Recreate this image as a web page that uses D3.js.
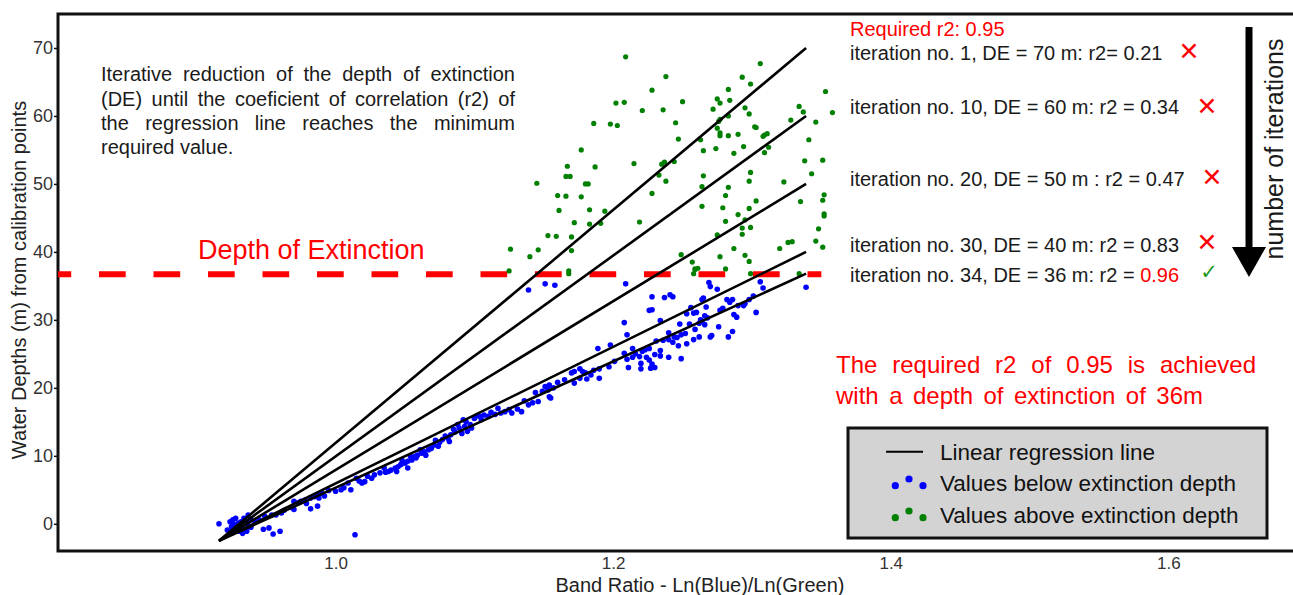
<!DOCTYPE html>
<html lang="en">
<head>
    <meta charset="UTF-8">
    <title>Iterative reduction of the depth of extinction</title>
    <script src="https://d3js.org/d3.v7.min.js"></script>
    <style>
        body { margin: 0; background: #fff; }
        svg { display: block; font-family: "Liberation Sans", Arial, sans-serif; }
        .tick text { fill: #333; }
    </style>
</head>
<body>
    <svg width="1293" height="595"></svg>

    <script>
        // Regression lines: shared start point, end depth for each iteration
        const lineStart = [0.916, -2.5];
        const lineEndX = 1.339;
        const lineEndY = [70, 60, 50, 40, 36.8];
        const extinctionDepth = 36.7;
        const dashEndX = 1.350;

        const yTicks = [0, 10, 20, 30, 40, 50, 60, 70];
        const xTicks = [1.0, 1.2, 1.4, 1.6];

        const requiredR2 = "Required r2: 0.95";
        const iterLabels = [
            "iteration no. 1, DE = 70 m: r2= 0.21",
            "iteration no. 10, DE = 60 m: r2 = 0.34",
            "iteration no. 20, DE = 50 m : r2 = 0.47",
            "iteration no. 30, DE = 40 m: r2 = 0.83",
            "iteration no. 34, DE = 36 m: r2 = "
        ];
        const finalR2 = "0.96";
        const iterPassed = [false, false, false, false, true];

        const paragraph = [
            "Iterative reduction of the depth of extinction",
            "(DE) until the coeficient of correlation (r2) of",
            "the regression line reaches the minimum",
            "required value."
        ];
        const summary = [
            "The required r2 of 0.95 is achieved",
            "with a depth of extinction of 36m"
        ];
        const legendLabels = ["Linear regression line", "Values below extinction depth", "Values above extinction depth"];

        // Points above the extinction depth (green)
        const abovePoints = [
            [1.209,68.7],[1.238,65.8],[1.228,63.8],[1.250,62.1],[1.202,61.9],[1.208,62.0],[1.221,60.8],[1.236,60.9],
            [1.186,58.9],[1.198,58.8],[1.203,58.6],[1.245,59.0],[1.247,56.6],[1.177,55.0],[1.215,53.0],[1.235,52.9],
            [1.237,53.2],[1.244,53.3],[1.167,52.6],[1.187,52.5],[1.166,51.1],[1.169,51.1],[1.233,51.3],[1.145,50.1],
            [1.180,50.0],[1.182,50.0],[1.238,50.4],[1.160,48.3],[1.166,48.2],[1.177,48.1],[1.228,48.6],[1.161,46.1],
            [1.183,46.2],[1.194,46.0],[1.172,44.3],[1.183,44.1],[1.191,44.2],[1.219,44.4],[1.153,42.4],[1.159,42.3],
            [1.170,42.2],[1.146,40.3],[1.170,40.2],[1.140,39.3],[1.249,39.6],[1.257,38.5],[1.259,37.5],[1.168,37.2],
            [1.168,36.8],[1.258,36.8],[1.126,40.4],[1.125,37.2],
            [1.306,67.7],[1.293,65.7],[1.299,64.7],[1.283,63.9],[1.353,63.6],[1.275,62.5],[1.277,61.9],[1.284,62.3],
            [1.272,61.0],[1.295,61.2],[1.334,61.4],[1.337,60.6],[1.358,60.5],[1.298,60.3],[1.277,59.5],[1.276,59.2],
            [1.283,60.0],[1.328,59.4],[1.346,59.1],[1.275,58.2],[1.302,58.4],[1.303,58.3],[1.277,57.5],[1.277,57.1],
            [1.290,57.3],[1.283,57.1],[1.309,57.2],[1.311,57.4],[1.308,57.0],[1.263,56.5],[1.341,56.5],[1.294,55.5],
            [1.312,55.4],[1.274,55.2],[1.265,54.9],[1.287,54.5],[1.309,54.6],[1.338,53.4],[1.351,53.5],[1.265,51.2],
            [1.299,51.7],[1.298,50.4],[1.343,51.5],[1.264,49.6],[1.323,50.3],[1.283,49.5],[1.281,48.3],[1.352,48.4],
            [1.351,47.6],[1.303,47.5],[1.335,47.4],[1.264,46.7],[1.279,46.5],[1.298,46.4],[1.290,45.5],[1.352,45.6],
            [1.352,45.3],[1.281,44.5],[1.295,44.7],[1.293,43.5],[1.299,43.6],[1.348,43.4],[1.275,42.5],[1.293,42.6],
            [1.326,41.4],[1.329,41.5],[1.346,41.6],[1.287,40.5],[1.320,40.5],[1.351,40.7],[1.277,39.3],[1.295,39.5],
            [1.298,38.6],[1.261,37.6],[1.259,37.4],[1.281,37.5],[1.334,36.8],[1.299,36.8]
        ];

        // Points below the extinction depth (blue)
        const belowPoints = [
            [1.151,35.3],[1.158,35.1],[1.139,34.4],[1.209,35.3],[1.269,35.5],[1.339,34.8],[1.306,35.6],
            [1.228,33.4],[1.237,33.3],[1.241,33.7],[1.243,33.4],[1.264,33.0],[1.226,31.4],[1.228,31.5],[1.256,31.8],
            [1.253,30.9],[1.258,31.0],[1.260,31.1],[1.208,29.6],[1.234,29.9],[1.248,29.4],[1.255,29.4],[1.263,30.0],
            [1.210,27.8],[1.240,28.1],[1.259,28.6],[1.244,27.5],[1.249,27.8],[1.252,28.0],[1.262,27.5],[1.258,27.1],
            [1.231,26.9],[1.236,27.0],[1.240,27.1],[1.243,26.7],[1.247,26.2],[1.253,26.5],[1.198,26.3],[1.189,25.8],
            [1.214,25.8],[1.226,25.8],[1.221,25.4],[1.223,25.6],[1.234,25.5],[1.208,25.1],[1.230,24.9],[1.234,24.7],
            [1.214,24.5],[1.219,24.6],[1.210,24.2],[1.224,24.5],[1.226,24.1],[1.240,24.5],[1.249,24.3],[1.220,23.6],
            [1.228,23.5],[1.197,23.1],[1.211,23.0],[1.220,22.8],[1.227,22.9],[1.230,23.0],[1.176,22.8],[1.172,22.4],
            [1.190,22.8],[1.170,22.2],[1.178,22.4],[1.180,22.2],[1.184,21.9],[1.176,21.4],[1.181,21.3],[1.190,21.4],
            [1.160,20.8],[1.172,20.7],
            [1.275,34.5],[1.308,34.7],[1.270,34.9],[1.265,33.2],[1.282,33.0],[1.286,33.0],[1.284,32.6],[1.301,33.5],
            [1.298,33.0],[1.295,32.4],[1.294,32.1],[1.290,32.1],[1.267,31.9],[1.279,31.7],[1.277,31.4],[1.303,31.1],
            [1.287,30.8],[1.289,30.4],[1.266,30.6],[1.268,30.3],[1.264,29.8],[1.262,29.5],[1.266,29.3],[1.276,29.0],
            [1.286,28.3],[1.283,27.5],[1.270,27.5],[1.271,27.7],
            [1.151,20.2],[1.154,20.4],[1.157,20.0],[1.153,19.7],[1.149,19.5],[1.146,18.0],[1.139,17.5],[1.142,17.8],
            [1.154,18.7],[1.155,18.5],[1.131,16.9],[1.134,16.5],[1.127,16.3],[1.122,16.5],[1.117,17.0],[1.119,16.3],
            [1.115,16.1],[1.107,16.0],[1.104,15.8],[1.100,15.5],[1.105,15.3],[1.110,15.8],[1.092,15.3],[1.094,15.0],
            [1.097,14.6],[1.093,14.3],[1.098,14.1],[1.095,13.6],[1.088,14.6],[1.089,14.1],[1.086,13.5],[1.091,13.3],
            [1.083,13.1],[1.081,12.6],[1.077,12.4],[1.082,12.1],[1.075,12.0],[1.071,11.6],[1.074,11.4],[1.069,11.1],
            [1.067,10.9],[1.064,10.6],[1.062,10.4],[1.059,10.1],[1.065,10.1],[1.058,9.7],[1.057,9.9],[1.055,9.4],
            [1.052,9.2],[1.050,8.9],[1.047,8.7],[1.045,8.4],[1.043,8.2],[1.040,7.9],[1.038,7.7],[1.035,8.2],
            [1.052,8.2],[1.044,7.7],
            [1.032,7.5],[1.028,7.2],[1.023,7.0],[1.021,6.2],[1.019,6.0],[1.015,6.7],[1.009,6.0],[1.006,5.3],
            [1.004,5.0],[1.011,5.0],[0.990,4.5],[0.987,4.3],[0.985,4.0],[0.982,3.8],[0.988,3.8],[0.978,3.5],
            [0.975,3.3],[0.973,3.1],[0.979,3.0],[0.970,3.3],[0.987,2.6],[0.982,2.2],[0.961,1.6],[0.957,1.3],
            [0.954,1.3],[0.970,2.1],[0.949,1.1],[0.945,0.6],[0.942,0.3],[0.939,0.6],[0.937,0.3],[0.934,0.8],
            [0.937,1.3],[0.932,0.3],[0.930,0.1],[0.927,-0.1],[0.925,-0.4],[0.924,0.3],[0.926,0.6],[0.928,0.8],
            [0.932,-0.6],[0.934,-0.9],[0.930,-1.1],[0.933,-1.4],[0.936,-1.1],[0.916,0.0],[0.948,-0.8],[0.952,-0.6],
            [0.955,-1.5],[0.960,-1.1],[1.014,-1.6],[0.922,-0.9],[0.926,-0.8],[0.937,-0.3],[0.939,-0.5],
            [1.125,16.8],[1.112,16.4],[1.102,15.9],[1.079,12.9],[1.085,13.9],[1.072,12.3],[1.061,10.9],[1.054,9.9],
            [1.048,9.3],[1.036,7.6],[1.026,6.7],[1.017,6.3],[1.000,4.8],[0.995,4.9],[0.992,4.1],[0.968,2.4],
            [0.963,2.0],[1.144,19.3],[1.136,18.1],[1.165,21.2],[1.186,22.6],[1.201,23.9],[1.216,25.0],[1.246,27.4]
        ];

        const svg = d3.select("svg");
        const plotLeft = 58, plotTop = 14, plotBottom = 551, plotRight = 1296;

        const x = d3.scaleLinear().domain([0.8, 1.692]).range([plotLeft, plotRight]);
        const y = d3.scaleLinear().domain([-4, 75]).range([plotBottom, plotTop]);

        // spread words so a line fills a given width (justified text)
        function justify(sel, width) {
            sel.each(function () {
                const n = this.getComputedTextLength();
                const spaces = (this.textContent.match(/ /g) || []).length;
                if (spaces) d3.select(this).attr("word-spacing", (width - n) / spaces);
            });
        }

        // Axes
        const yAxis = svg.append("g")
            .attr("transform", `translate(${plotLeft},0)`)
            .call(d3.axisLeft(y).tickValues(yTicks).tickSize(4).tickSizeOuter(0).tickPadding(1));
        yAxis.select(".domain").remove();
        yAxis.selectAll(".tick line").attr("stroke", "#111").attr("stroke-width", 1.5);
        yAxis.selectAll(".tick text").attr("font-size", 18).attr("font-family", "Liberation Sans, Arial, sans-serif");

        const xAxis = svg.append("g")
            .attr("transform", `translate(0,${plotBottom})`)
            .call(d3.axisBottom(x).tickValues(xTicks).tickFormat(d3.format(".1f")).tickSize(0).tickPadding(6));
        xAxis.select(".domain").remove();
        xAxis.selectAll(".tick text").attr("font-size", 17).attr("font-family", "Liberation Sans, Arial, sans-serif");

        // Frame: left, top and bottom
        svg.append("path")
            .attr("d", `M${plotRight},${plotTop}H${plotLeft}V${plotBottom}H${plotRight}`)
            .attr("fill", "none")
            .attr("stroke", "#111")
            .attr("stroke-width", 3);

        // Depth of extinction (dashed)
        svg.append("line")
            .attr("x1", x(0.8)).attr("x2", x(dashEndX))
            .attr("y1", y(extinctionDepth)).attr("y2", y(extinctionDepth))
            .attr("stroke", "#ff0000")
            .attr("stroke-width", 6)
            .attr("stroke-dasharray", "26.7,27.8")
            .attr("stroke-dashoffset", 13.5);

        // Scatter points
        svg.append("g").selectAll("circle")
            .data(belowPoints)
            .join("circle")
            .attr("cx", d => x(d[0]))
            .attr("cy", d => y(d[1]))
            .attr("r", 2.8)
            .attr("fill", "#0000ff");

        svg.append("g").selectAll("circle")
            .data(abovePoints)
            .join("circle")
            .attr("cx", d => x(d[0]))
            .attr("cy", d => y(d[1]))
            .attr("r", 2.6)
            .attr("fill", "#008000");

        // Regression lines
        svg.append("g").selectAll("line")
            .data(lineEndY)
            .join("line")
            .attr("x1", x(lineStart[0]))
            .attr("y1", y(lineStart[1]))
            .attr("x2", x(lineEndX))
            .attr("y2", d => y(d))
            .attr("stroke", "#000")
            .attr("stroke-width", 2.6);

        // Axis titles
        svg.append("text")
            .attr("transform", "translate(26,280) rotate(-90)")
            .attr("text-anchor", "middle")
            .attr("font-size", 20)
            .attr("fill", "#222")
            .text("Water Depths (m) from calibration points");

        svg.append("text")
            .attr("x", 700).attr("y", 591.5)
            .attr("text-anchor", "middle")
            .attr("font-size", 20)
            .attr("fill", "#222")
            .text("Band Ratio - Ln(Blue)/Ln(Green)");

        // Explanatory paragraph
        const paraY = [80.5, 105.5, 129.5, 154];
        const para = svg.append("g").selectAll("text")
            .data(paragraph)
            .join("text")
            .attr("x", 101)
            .attr("y", (d, i) => paraY[i])
            .attr("font-size", 20)
            .attr("fill", "#1a1a1a")
            .text(d => d);
        justify(para.filter((d, i) => i < 3), 414);

        svg.append("text")
            .attr("x", 198).attr("y", 258.5)
            .attr("font-size", 27)
            .attr("fill", "#ff0000")
            .text("Depth of Extinction");

        // Iteration notes
        svg.append("text")
            .attr("x", 850).attr("y", 35.7)
            .attr("font-size", 20)
            .attr("fill", "#ff0000")
            .text(requiredR2);

        const iterY = [60, 114.3, 186, 252.3, 281.7];
        const iterText = svg.append("g").selectAll("text")
            .data(iterLabels)
            .join("text")
            .attr("x", 850)
            .attr("y", (d, i) => iterY[i])
            .attr("font-size", 20)
            .attr("fill", "#1a1a1a")
            .text(d => d);
        iterText.filter((d, i) => i === iterLabels.length - 1)
            .append("tspan")
            .attr("fill", "#ff0000")
            .text(finalR2);

        const markX = [1189, 1207, 1212, 1207, 1209];
        const markY = [51.7, 106.7, 177.7, 242, 271.7];
        svg.append("g").selectAll("text")
            .data(iterPassed)
            .join("text")
            .attr("x", (d, i) => markX[i])
            .attr("y", (d, i) => markY[i])
            .attr("text-anchor", "middle")
            .attr("dominant-baseline", "central")
            .attr("font-family", "DejaVu Sans, sans-serif")
            .attr("font-size", d => d ? 21 : 25)
            .attr("font-weight", "bold")
            .attr("fill", d => d ? "#1f9a1f" : "#ff0000")
            .text(d => d ? "\u2713" : "\u2715");

        // Arrow: number of iterations
        svg.append("line")
            .attr("x1", 1249).attr("x2", 1249)
            .attr("y1", 27).attr("y2", 250)
            .attr("stroke", "#000")
            .attr("stroke-width", 7);
        svg.append("path")
            .attr("d", "M1232,247L1266,247L1249,277Z")
            .attr("fill", "#000");
        svg.append("text")
            .attr("transform", "translate(1283,149) rotate(-90)")
            .attr("text-anchor", "middle")
            .attr("font-size", 25)
            .attr("fill", "#1a1a1a")
            .text("number of iterations");

        // Summary in red
        const sumText = svg.append("g").selectAll("text")
            .data(summary)
            .join("text")
            .attr("x", 836)
            .attr("y", (d, i) => [373.3, 404][i])
            .attr("font-size", 24)
            .attr("fill", "#ff0000")
            .text(d => d);
        justify(sumText.filter((d, i) => i === 0), 420);
        justify(sumText.filter((d, i) => i === 1), 367);

        // Legend
        const legend = svg.append("g");
        legend.append("rect")
            .attr("x", 848).attr("y", 428)
            .attr("width", 419).attr("height", 110)
            .attr("fill", "#d3d3d3")
            .attr("stroke", "#111")
            .attr("stroke-width", 3);
        legend.append("line")
            .attr("x1", 886).attr("x2", 923)
            .attr("y1", 451.7).attr("y2", 451.7)
            .attr("stroke", "#000")
            .attr("stroke-width", 2);
        const dotRows = [["#0000ff", 485.7], ["#008000", 517.7]];
        dotRows.forEach(([c, cy]) => {
            legend.append("g").selectAll("circle")
                .data([[895.3, 0], [909, -6.7], [923, 0]])
                .join("circle")
                .attr("cx", d => d[0])
                .attr("cy", d => cy + d[1])
                .attr("r", 3.6)
                .attr("fill", c);
        });
        legend.selectAll("text.lab")
            .data(legendLabels)
            .join("text")
            .attr("class", "lab")
            .attr("x", 940)
            .attr("y", (d, i) => [460, 491, 522.7][i])
            .attr("font-size", 22.5)
            .attr("fill", "#111")
            .text(d => d);
    </script>
</body>
</html>
